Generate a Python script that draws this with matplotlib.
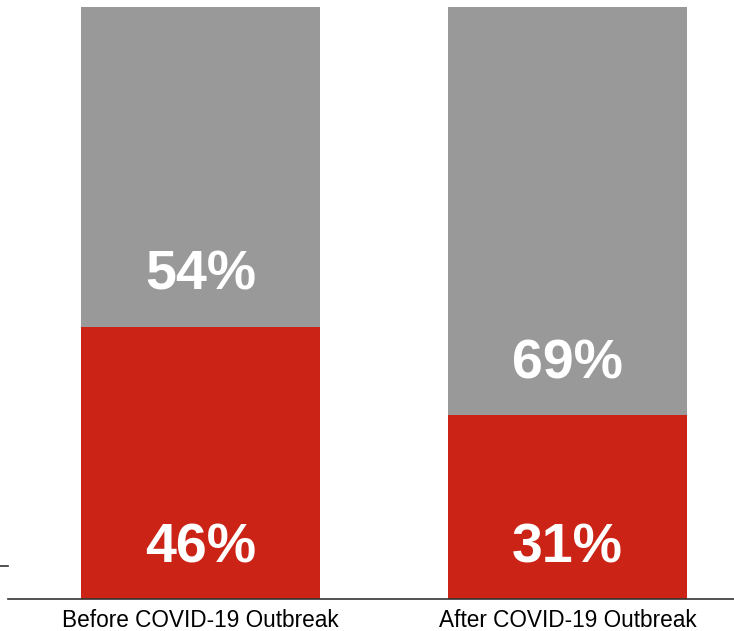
import matplotlib.pyplot as plt
from matplotlib.lines import Line2D

plt.rcParams['font.family'] = ['Liberation Sans', 'DejaVu Sans']

categories = ["Before COVID-19 Outbreak", "After COVID-19 Outbreak"]
red_share = [46, 31]
gray_share = [54, 69]

red = "#cc2317"
gray = "#999999"

fig = plt.figure(figsize=(7.34, 6.31), dpi=100)
ax = fig.add_axes([8/734, 32/631, 726/734, 592/631])

x = range(len(categories))
ax.bar(x, red_share, width=0.651, color=red, linewidth=0)
ax.bar(x, gray_share, width=0.651, bottom=red_share, color=gray, linewidth=0)

for i in x:
    ax.text(i, 8.6, f"{red_share[i]}%", ha="center", va="center",
            color="white", fontsize=40, fontweight="bold")
    ax.text(i, red_share[i] + 8.6, f"{gray_share[i]}%", ha="center", va="center",
            color="white", fontsize=40, fontweight="bold")

ax.set_xlim(-0.5245, 1.4537)
ax.set_ylim(0, 100)
ax.set_xticks(list(x))
ax.set_xticklabels(categories, fontsize=16.3)
ax.tick_params(axis="x", length=0, pad=7)
ax.set_yticks([])
for s in ["top", "right", "left"]:
    ax.spines[s].set_visible(False)
ax.spines["bottom"].set_color("#333333")
ax.spines["bottom"].set_linewidth(1.2)

# small leftover mark on the left edge
fig.add_artist(Line2D([0, 8/734], [1 - 566/631, 1 - 566/631], color="#333333", lw=1.2))

fig.savefig("out.png", dpi=100)
